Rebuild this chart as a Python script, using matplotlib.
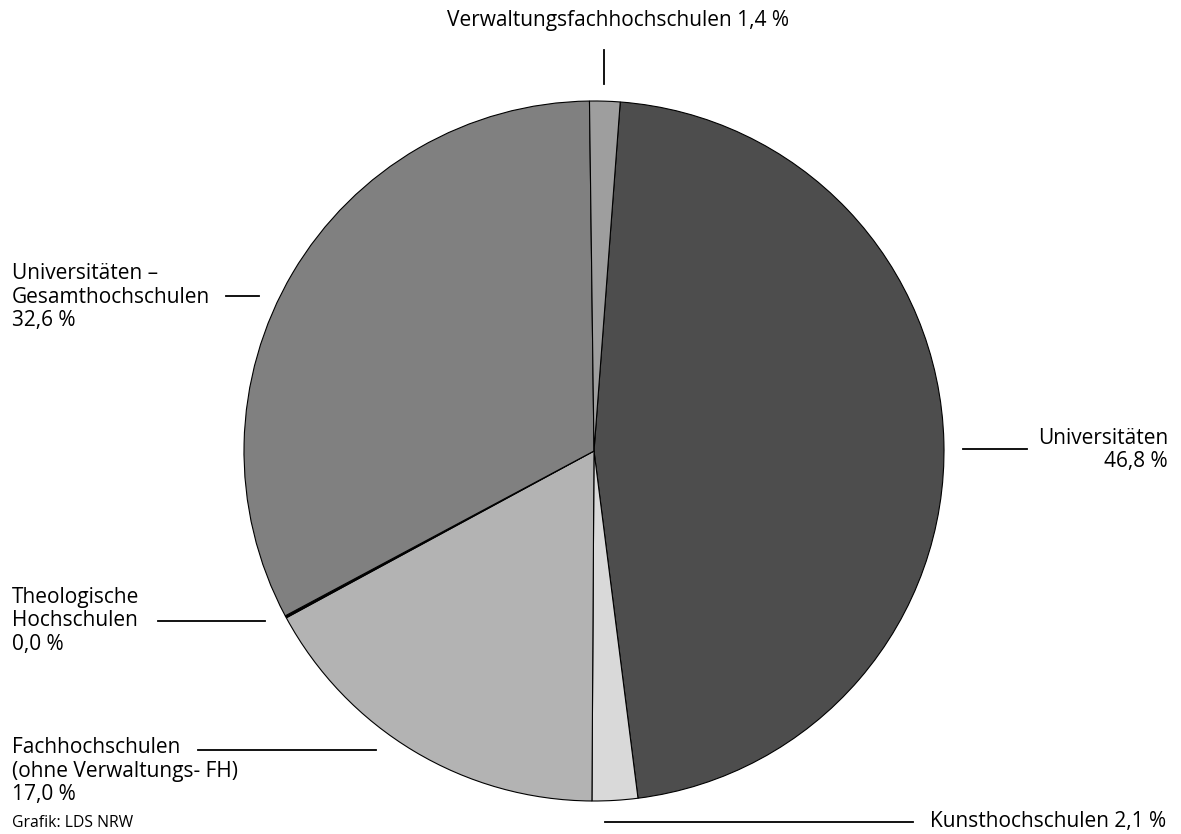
import matplotlib
matplotlib.use('Agg')
import matplotlib.pyplot as plt

# DATA (clockwise from top)
names = ['Universitäten', 'Kunsthochschulen', 'Fachhochschulen', 'Theologische Hochschulen',
         'Universitäten – Gesamthochschulen', 'Verwaltungsfachhochschulen']
shares = [46.8, 2.1, 17.0, 0.1, 32.6, 1.4]
colors = ['#4d4d4d', '#d9d9d9', '#b3b3b3', '#000000', '#808080', '#9e9e9e']
label_texts = ['Universitäten\n46,8 %', 'Kunsthochschulen 2,1 %',
               'Fachhochschulen\n(ohne Verwaltungs- FH)\n17,0 %',
               'Theologische\nHochschulen\n0,0 %',
               'Universitäten –\nGesamthochschulen\n32,6 %',
               'Verwaltungsfachhochschulen 1,4 %']

W, H = 1181, 834
plt.rcParams['font.family'] = ['Open Sans', 'DejaVu Sans']

fig = plt.figure(figsize=(W / 100, H / 100), dpi=100)
ax = fig.add_axes([0, 0, 1, 1])

ax.pie(shares, colors=colors, startangle=85.7, counterclock=False,
       center=(594, H - 451), radius=350, frame=True,
       wedgeprops=dict(edgecolor='black', linewidth=0.8))
ax.set_xlim(0, W)
ax.set_ylim(0, H)
ax.axis('off')

fs = 15
ls = 1.16
lw = 1.3

def y(py):
    return H - py

# labels and their short leader lines
ax.text(618, y(20), label_texts[5], fontsize=fs, ha='center', va='center')
ax.plot([604, 604], [y(50), y(84)], color='black', lw=lw)

ax.text(1168, y(450), label_texts[0], fontsize=fs, ha='right', va='center',
        multialignment='right', linespacing=ls)
ax.plot([963, 1027], [y(449), y(449)], color='black', lw=lw)

ax.text(930, y(822), label_texts[1], fontsize=fs, ha='left', va='center')
ax.plot([605, 913], [y(822), y(822)], color='black', lw=lw)

ax.text(12, y(297), label_texts[4], fontsize=fs, ha='left', va='center', linespacing=ls)
ax.plot([226, 259], [y(296), y(296)], color='black', lw=lw)

ax.text(12, y(621), label_texts[3], fontsize=fs, ha='left', va='center', linespacing=ls)
ax.plot([158, 265], [y(621), y(621)], color='black', lw=lw)

ax.text(12, y(771), label_texts[2], fontsize=fs, ha='left', va='center', linespacing=ls)
ax.plot([198, 376], [y(750), y(750)], color='black', lw=lw)

ax.text(12, y(823), 'Grafik: LDS NRW', fontsize=11.3, ha='left', va='center')

fig.savefig('out.png', dpi=100)
